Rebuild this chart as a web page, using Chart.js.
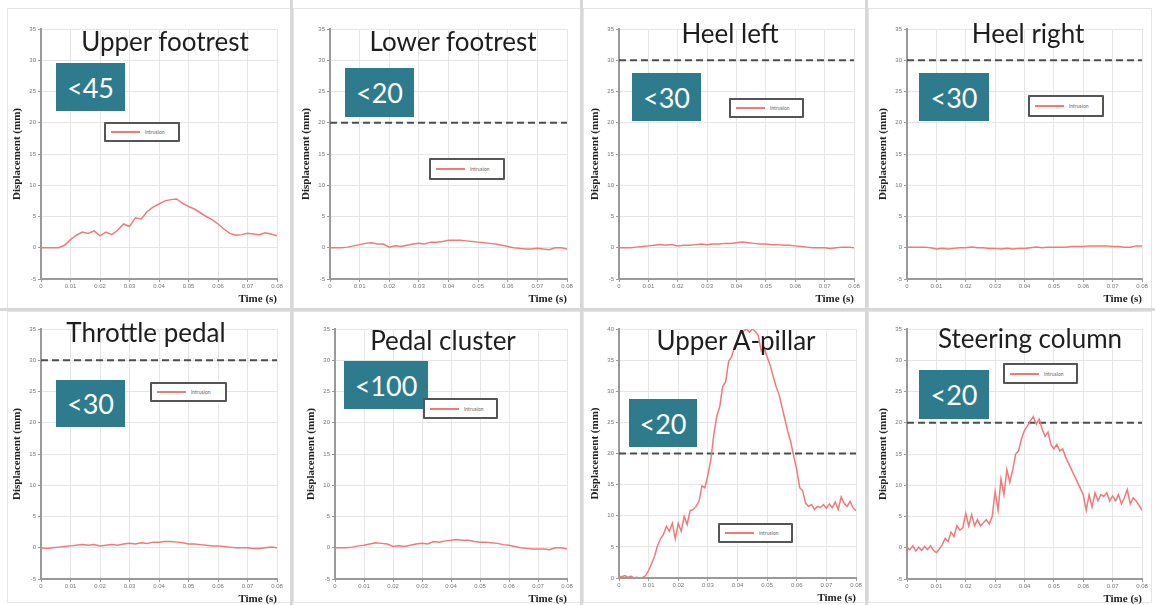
<!DOCTYPE html>
<html lang="en">
<head>
<meta charset="UTF-8">
<title>Intrusion displacement</title>
<script src="https://cdn.jsdelivr.net/npm/chart.js"></script>
<style>
  body { margin: 0; background: #fff; width: 1155px; height: 605px; position: relative; overflow: hidden; font-family: Lato, sans-serif; }
  canvas { position: absolute; }
  .frame { position: absolute; border: 1px solid #e4e4e4; box-sizing: border-box; }
  .sep { position: absolute; background: #d8d8d8; }
  .title { position: absolute; font-size: 26px; color: #1e1e1e; transform: translate(-50%, -50%); white-space: nowrap; }
  .limit { position: absolute; background: #2e7b8d; color: #fff; font-size: 27px; display: flex; align-items: center; justify-content: center; }
  .legend { position: absolute; border: 2px solid #555; border-radius: 1px; background: #fff; box-sizing: border-box; display: flex; align-items: center; font-size: 5px; color: #666; }
  .legend i { display: block; width: 29px; height: 2px; background: #f07a7a; margin: 0 5px 0 5px; }
</style>
</head>
<body>
<script>
  // sample times (s)
  const timeCoarse = [0, 0.002, 0.004, 0.006, 0.008, 0.010, 0.012, 0.014, 0.016, 0.018,
    0.020, 0.022, 0.024, 0.026, 0.028, 0.030, 0.032, 0.034, 0.036, 0.038,
    0.040, 0.042, 0.044, 0.046, 0.048, 0.050, 0.052, 0.054, 0.056, 0.058,
    0.060, 0.062, 0.064, 0.066, 0.068, 0.070, 0.072, 0.074, 0.076, 0.078, 0.080];
  const timeFine = [0, 0.001, 0.002, 0.003, 0.004, 0.005, 0.006, 0.007, 0.008, 0.009,
    0.010, 0.011, 0.012, 0.013, 0.014, 0.015, 0.016, 0.017, 0.018, 0.019,
    0.020, 0.021, 0.022, 0.023, 0.024, 0.025, 0.026, 0.027, 0.028, 0.029,
    0.030, 0.031, 0.032, 0.033, 0.034, 0.035, 0.036, 0.037, 0.038, 0.039,
    0.040, 0.041, 0.042, 0.043, 0.044, 0.045, 0.046, 0.047, 0.048, 0.049,
    0.050, 0.051, 0.052, 0.053, 0.054, 0.055, 0.056, 0.057, 0.058, 0.059,
    0.060, 0.061, 0.062, 0.063, 0.064, 0.065, 0.066, 0.067, 0.068, 0.069,
    0.070, 0.071, 0.072, 0.073, 0.074, 0.075, 0.076, 0.077, 0.078, 0.079, 0.080];

  // displacement (mm)
  const upperFootrest = [0, 0, 0, 0, 0.4, 1.3, 2.0, 2.5, 2.3, 2.7,
    1.9, 2.5, 2.1, 2.8, 3.8, 3.4, 4.8, 4.6, 5.8, 6.5,
    7.0, 7.5, 7.7, 7.8, 7.1, 6.6, 6.2, 5.6, 5.0, 4.5,
    3.8, 3.0, 2.3, 2.0, 2.1, 2.3, 2.2, 2.1, 2.4, 2.2, 1.9];
  const lowerFootrest = [0, 0, 0, 0.1, 0.3, 0.5, 0.7, 0.8, 0.6, 0.6,
    0.1, 0.3, 0.2, 0.4, 0.6, 0.7, 0.6, 0.9, 0.9, 1.0,
    1.2, 1.2, 1.2, 1.1, 1.0, 0.9, 0.8, 0.7, 0.6, 0.4,
    0.2, 0.0, -0.1, -0.2, -0.2, -0.1, -0.2, -0.3, 0.0, 0.0, -0.2];
  const heelLeft = [0, 0, 0, 0.1, 0.2, 0.3, 0.4, 0.5, 0.4, 0.5,
    0.3, 0.4, 0.4, 0.5, 0.6, 0.5, 0.6, 0.6, 0.7, 0.7,
    0.8, 0.9, 0.8, 0.7, 0.6, 0.6, 0.5, 0.5, 0.4, 0.4,
    0.3, 0.2, 0.1, 0.0, 0.0, 0.0, -0.1, 0.0, 0.1, 0.1, 0.0];
  const heelRight = [0.1, 0.1, 0.1, 0.1, 0.0, -0.2, -0.1, -0.2, -0.1, 0.0,
    0.0, 0.1, 0.0, 0.0, -0.1, -0.1, -0.2, -0.1, -0.2, -0.1,
    -0.1, 0.0, 0.1, 0.0, 0.1, 0.1, 0.1, 0.1, 0.2, 0.2,
    0.2, 0.3, 0.3, 0.3, 0.3, 0.2, 0.2, 0.1, 0.1, 0.3, 0.3];
  const throttlePedal = [0, -0.1, 0, 0.1, 0.2, 0.3, 0.4, 0.5, 0.4, 0.5,
    0.3, 0.4, 0.5, 0.4, 0.6, 0.7, 0.6, 0.8, 0.7, 0.9,
    0.9, 1.0, 1.0, 0.9, 0.8, 0.6, 0.6, 0.5, 0.4, 0.3,
    0.3, 0.2, 0.1, 0.0, 0.0, 0.0, -0.1, -0.1, 0.0, 0.1, 0.0];
  const pedalCluster = [0, 0, 0, 0.1, 0.3, 0.4, 0.6, 0.8, 0.7, 0.6,
    0.2, 0.3, 0.2, 0.4, 0.6, 0.7, 0.6, 1.0, 0.9, 1.1,
    1.2, 1.3, 1.2, 1.2, 1.0, 0.9, 0.9, 0.8, 0.7, 0.5,
    0.4, 0.2, 0.0, -0.1, -0.2, -0.2, -0.2, -0.3, 0.0, 0.0, -0.2];
  const upperAPillar = [0.3, 0.2, 0.4, 0.1, 0.3, 0.0, 0.1, 0.0, 0.1, 0.4,
    1.2, 2.3, 3.5, 5.2, 6.3, 7.0, 8.3, 7.5, 8.8, 6.3,
    8.8, 7.5, 9.9, 8.6, 10.8, 11.0, 11.5, 12.3, 14.8, 14.5,
    16.5, 19.0, 23.0, 26.0, 27.5, 30.8, 31.5, 34.8, 35.5, 37.2,
    38.2, 39.3, 39.6, 40.0, 39.5, 40.0, 39.6, 39.0, 36.5, 37.0,
    35.5, 34.2, 32.5, 30.8, 29.5, 27.5, 25.5, 23.5, 21.8, 19.5,
    17.4, 14.5, 14.0, 12.0, 11.5, 11.8, 11.0, 11.5, 11.3, 11.8,
    11.2, 11.9, 11.3, 12.2, 11.0, 13.0, 12.0, 11.5, 12.3, 11.3, 10.8];
  const steeringColumn = [0.0, -0.3, 0.3, -0.5, 0.1, -0.4, 0.2, -0.3, 0.3, -0.4,
    -0.8, -0.2, 0.5, 1.5, 1.0, 2.5, 1.8, 3.5, 2.8, 3.2,
    5.5, 3.5, 5.3, 3.5, 4.5, 3.5, 4.0, 4.5, 3.8, 5.0,
    9.0, 6.0, 11.0, 8.5, 12.5, 10.5, 12.5, 15.0, 15.5, 17.5,
    18.8, 19.5, 20.3, 21.0, 19.8, 20.6, 19.0, 17.8, 18.5, 16.5,
    15.8, 16.5, 15.5, 15.8, 14.5, 13.5, 12.5, 11.5, 10.5, 9.5,
    8.5, 6.0, 8.5, 6.5, 8.8, 7.5, 8.5, 8.2, 8.8, 7.5,
    8.3, 7.5, 8.5, 7.0, 8.0, 9.3, 7.0, 8.0, 7.5, 6.8, 6.0];

  const panelNames = ['Upper footrest', 'Lower footrest', 'Heel left', 'Heel right',
    'Throttle pedal', 'Pedal cluster', 'Upper A-pillar', 'Steering column'];
  const limitLabels = ['<45', '<20', '<30', '<30', '<30', '<100', '<20', '<20'];
  const limitLines = [null, 20, 30, 30, 30, null, 20, 20];
  const yMin = [-5, -5, -5, -5, -5, -5, 0, -5];
  const yMax = [35, 35, 35, 35, 35, 35, 40, 35];
  const seriesTimes = [timeCoarse, timeCoarse, timeCoarse, timeCoarse, timeCoarse, timeCoarse, timeFine, timeFine];
  const seriesValues = [upperFootrest, lowerFootrest, heelLeft, heelRight, throttlePedal, pedalCluster, upperAPillar, steeringColumn];

  // page layout (px): plot area l,t,r,b / title centre / limit box / legend box
  const plots = [[41, 29, 277, 279], [330, 29, 567, 279], [619, 29, 854, 279], [907, 29, 1142, 279],
    [41, 329, 277, 579], [335, 329, 567, 579], [619, 329, 856, 578], [907, 329, 1142, 579]];
  const titlePos = [[165, 41], [453, 41], [730, 33], [1028, 33], [146, 332], [443, 340], [736, 340], [1030, 338]];
  const boxes = [[56, 63, 69, 48], [345, 68, 69, 49], [632, 73, 69, 48], [919, 73, 70, 48],
    [56, 380, 69, 47], [344, 361, 84, 48], [629, 399, 68, 48], [919, 370, 70, 49]];
  const legends = [[104, 122, 76, 20], [429, 158, 76, 22], [729, 98, 75, 20], [1028, 95, 76, 22],
    [150, 382, 77, 20], [423, 398, 75, 21], [718, 523, 75, 20], [1003, 363, 75, 21]];
  const cells = [[7, 8, 284, 301], [293, 8, 288, 301], [583, 8, 283, 301], [868, 8, 284, 301],
    [7, 311, 284, 292], [293, 311, 288, 292], [583, 311, 283, 292], [868, 311, 284, 292]];

  Chart.defaults.font.family = "'Liberation Sans', sans-serif";

  function addDiv(cls, x, y, w, h) {
    const d = document.createElement('div');
    d.className = cls;
    d.style.left = x + 'px'; d.style.top = y + 'px';
    if (w != null) { d.style.width = w + 'px'; d.style.height = h + 'px'; }
    document.body.appendChild(d);
    return d;
  }

  cells.forEach(c => addDiv('frame', c[0], c[1], c[2], c[3]));
  [290, 580, 865].forEach(x => addDiv('sep', x, 0, 3, 605));
  addDiv('sep', 0, 308, 1155, 3);

  const axisTitleFont = { family: "'Liberation Serif', serif", weight: 'bold', size: 11 };

  seriesValues.forEach((vals, i) => {
    const [l, t, r, b] = plots[i];
    const cl = l - 34, ct = t - 8, cw = r + 10 - cl, ch = b + 28 - ct;
    const canvas = document.createElement('canvas');
    canvas.width = cw; canvas.height = ch;
    canvas.style.left = cl + 'px'; canvas.style.top = ct + 'px';
    canvas.style.width = cw + 'px'; canvas.style.height = ch + 'px';
    document.body.appendChild(canvas);

    const datasets = [{
      label: 'Intrusion',
      data: seriesTimes[i].map((x, k) => ({ x: x, y: vals[k] })),
      borderColor: '#f07a7a', borderWidth: 1.5, pointRadius: 0, tension: 0
    }];
    if (limitLines[i] !== null) {
      datasets.push({
        label: 'Limit',
        data: [{ x: 0, y: limitLines[i] }, { x: 0.08, y: limitLines[i] }],
        borderColor: '#4d4d4d', borderWidth: 2, borderDash: [7, 4], pointRadius: 0
      });
    }

    new Chart(canvas, {
      type: 'line',
      data: { datasets },
      options: {
        responsive: false,
        animation: false,
        layout: { padding: { left: 0, top: 8, right: 10, bottom: 0 } },
        plugins: { legend: { display: false }, tooltip: { enabled: false } },
        scales: {
          x: {
            type: 'linear', min: 0, max: 0.08,
            ticks: { stepSize: 0.01, font: { size: 6 }, color: '#777', padding: 1, maxRotation: 0, autoSkip: false,
              callback: v => v === 0 ? '0' : v.toFixed(2) },
            grid: { color: '#e6e6e6', tickLength: 3, tickColor: '#999' },
            border: { color: '#9a9a9a', width: 2 },
            title: { display: true, text: 'Time (s)', align: 'end', font: axisTitleFont, color: '#222', padding: { top: 0, bottom: 1 } },
            afterFit: s => { s.height = 28; }
          },
          y: {
            min: yMin[i], max: yMax[i],
            ticks: { stepSize: 5, font: { size: 6 }, color: '#777', padding: 2 },
            grid: { color: '#e6e6e6', tickLength: 3, tickColor: '#999' },
            border: { color: '#9a9a9a', width: 2 },
            title: { display: true, text: 'Displacement (mm)', font: axisTitleFont, color: '#222', padding: { top: 4, bottom: 0 } },
            afterFit: s => { s.width = 34; }
          }
        }
      }
    });
  });

  panelNames.forEach((name, i) => {
    const t = addDiv('title', titlePos[i][0], titlePos[i][1]);
    t.textContent = name;
    const bx = boxes[i];
    const box = addDiv('limit', bx[0], bx[1], bx[2], bx[3]);
    box.textContent = limitLabels[i];
    const lg = legends[i];
    const leg = addDiv('legend', lg[0], lg[1], lg[2], lg[3]);
    leg.innerHTML = '<i></i><span>Intrusion</span>';
  });
</script>
</body>
</html>
